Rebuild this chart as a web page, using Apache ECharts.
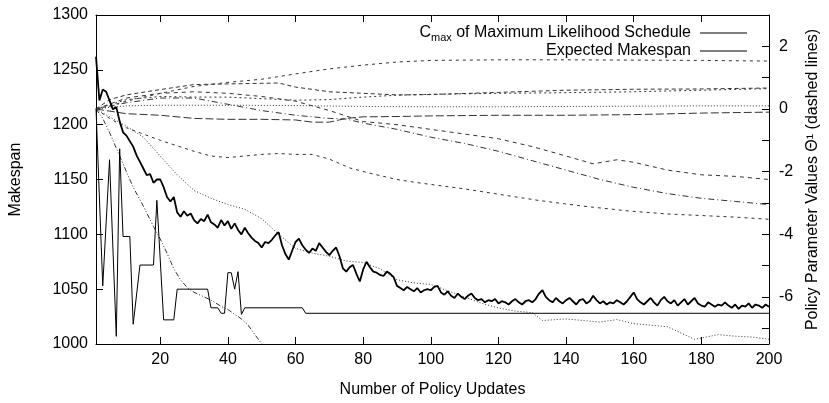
<!DOCTYPE html>
<html><head><meta charset="utf-8">
<script src="https://cdn.jsdelivr.net/npm/echarts@6/dist/echarts.min.js"></script>
<style>html,body{margin:0;padding:0;background:#fff}#c{width:829px;height:403px}</style>
</head><body><div id="c"></div>
<script>
// ---- data ----
const xTickValues = [20,40,60,80,100,120,140,160,180,200];
const rightTickValues = [-7,-6,-5,-4,-3,-2,-1,0,1,2,3];
const rightLabelValues = [-6,-4,-2,0,2];

const expectedMakespan = [
1262,1222,1232,1230,1222,1214,1216,1203,1193,1190,
1185,1180,1172,1166,1160,1154,1155,1147,1150,1150,
1143,1134,1130,1134,1120,1116,1121,1117,1119,1113,
1110,1114,1112,1118,1111,1109,1106,1113,1108,1112,
1105,1110,1104,1100,1106,1101,1097,1094,1092,1088,
1093,1092,1095,1099,1102,1090,1082,1077,1085,1093,
1096,1090,1086,1083,1087,1085,1092,1088,1084,1081,
1085,1088,1080,1069,1066,1070,1072,1064,1057,1068,
1075,1070,1066,1065,1063,1062,1066,1064,1061,1053,
1051,1049,1052,1050,1048,1051,1047,1049,1050,1049,
1052,1053,1047,1045,1048,1044,1042,1046,1043,1041,
1044,1046,1042,1040,1041,1038,1040,1039,1041,1037,
1039,1038,1036,1039,1041,1038,1036,1039,1040,1038,
1041,1046,1049,1043,1040,1038,1042,1039,1037,1040,
1042,1039,1036,1040,1041,1037,1039,1044,1040,1037,
1039,1036,1038,1037,1040,1038,1036,1039,1043,1047,
1041,1038,1036,1039,1042,1038,1035,1040,1043,1039,
1037,1040,1035,1038,1041,1036,1039,1042,1037,1035,
1034,1038,1036,1034,1036,1035,1038,1035,1033,1036,
1032,1035,1034,1037,1033,1036,1035,1033,1036,1034
];

const cmaxX = [1,3,5,7,8,9,11,12,14,18,19,21,24,25,34,35,37,38,39,40,41,42,43,44,45,62,63,200];
const cmaxY = [1215,1053,1168,1007,1178,1098,1098,1018,1072,1072,1131,1022,1022,1050,1050,1033,1033,1028,1028,1065,1065,1050,1066,1027,1033,1033,1028,1028];

const thetaAX = [1,5,10,20,30,40,50,60,70,80,90,100,120,140,160,180,200];
const thetaAY = [0,0.1,0.25,0.5,0.72,0.85,0.95,1.12,1.28,1.4,1.5,1.55,1.57,1.57,1.56,1.55,1.53];

const thetaBX = [1,5,10,20,30,40,50,55,60,70,80,90,100,120,140,160,180,200];
const thetaBY = [0,0.3,0.45,0.62,0.78,0.8,0.82,0.83,0.7,0.55,0.5,0.45,0.46,0.53,0.6,0.63,0.64,0.67];

const thetaCX = [1,10,20,30,40,50,60,70,80,90,100,120,140,160,180,200];
const thetaCY = [0,0.3,0.4,0.38,0.38,0.33,0.28,0.3,0.38,0.44,0.47,0.5,0.52,0.55,0.6,0.65];

const thetaDX = [1,5,10,20,40,60,80,100,120,140,160,180,200];
const thetaDY = [0,0.05,0.1,0.12,0.12,0.11,0.08,0.07,0.07,0.08,0.09,0.1,0.1];

const thetaFX = [1,10,20,30,40,50,60,65,70,75,80,90,100,120,140,160,180,200];
const thetaFY = [0,-0.15,-0.2,-0.3,-0.33,-0.33,-0.35,-0.42,-0.42,-0.3,-0.25,-0.24,-0.22,-0.2,-0.2,-0.18,-0.13,-0.1];

const thetaGX = [1,10,20,30,40,50,60,70,80,90,100,110,120,130,140,148,155,160,170,180,190,200];
const thetaGY = [0,0.35,0.5,0.55,0.5,0.4,0.25,-0.05,-0.4,-0.5,-0.65,-0.8,-0.95,-1.2,-1.5,-1.75,-1.62,-1.7,-1.95,-2.1,-2.15,-2.25];

const thetaEX = [1,10,20,30,40,50,60,70,75,80,90,100,110,120,130,140,150,160,170,180,190,200];
const thetaEY = [0,0.2,0.35,0.35,0.15,-0.05,-0.2,-0.3,-0.32,-0.45,-0.65,-0.9,-1.1,-1.35,-1.65,-1.95,-2.25,-2.5,-2.7,-2.85,-2.95,-3.05];

const thetaHX = [1,5,10,20,30,35,40,45,50,55,60,65,70,76,82,90,96,110,120,132,145,159,170,180,190,200];
const thetaHY = [0,-0.3,-0.6,-1.0,-1.35,-1.5,-1.55,-1.5,-1.45,-1.42,-1.45,-1.45,-1.6,-1.88,-2.05,-2.25,-2.35,-2.55,-2.72,-2.92,-3.1,-3.26,-3.35,-3.4,-3.45,-3.52];

const thetaIX = [1,5,10,15,20,25,30,35,40,45,50,55,60,65,70,75,80,85,90,95,100,105,110,115,120,125,130,133,140,145,150,155,160,165,170,175,178,185,190,195,200];
const thetaIY = [0,-0.25,-0.55,-0.9,-1.5,-2.1,-2.6,-2.85,-3.05,-3.2,-3.5,-4.0,-4.45,-4.6,-4.7,-4.85,-4.9,-5.1,-5.45,-5.55,-5.6,-5.8,-6.0,-6.2,-6.35,-6.45,-6.5,-6.75,-6.7,-6.75,-6.8,-6.72,-6.85,-6.9,-6.95,-7.2,-7.35,-7.2,-7.25,-7.28,-7.35];

const thetaJX = [1,3,5,8,10,12,15,18,20,22,24,26,28,30,32,35,38,40,42,44,46,48,50,52];
const thetaJY = [0,-0.3,-0.75,-1.5,-2.0,-2.5,-3.1,-3.75,-4.15,-4.6,-5.1,-5.45,-5.7,-5.85,-5.95,-6.1,-6.3,-6.4,-6.55,-6.7,-6.9,-7.2,-7.5,-7.8];

const nameCmax = 'Cmax of Maximum Likelihood Schedule';
const nameExp = 'Expected Makespan';

// ---- build ----
function pairs(xs, ys){ return xs.map((x,i)=>[x, ys[i]]); }
const expData = expectedMakespan.map((v,i)=>[i+1, v]);

const FONT = 'Liberation Sans';
const thetaColor = '#333';
function theta(xs, ys, dash){
  return {type:'line', yAxisIndex:1, xAxisIndex:0, data:pairs(xs,ys), showSymbol:false, symbol:'none',
    lineStyle:{color:thetaColor, width:1, type:dash}, silent:true, z:2, animation:false};
}
const plain = v => String(v);

const chart = echarts.init(document.getElementById('c'), null, {renderer:'canvas'});
chart.setOption({
  animation:false,
  backgroundColor:'#fff',
  textStyle:{fontFamily:FONT},
  grid:{left:96, right:57, top:15, bottom:48, containLabel:false},
  legend:[
    {data:[nameCmax], right:77, top:20, orient:'horizontal', align:'right',
     itemWidth:47, itemHeight:1, icon:'rect', itemGap:0,
     formatter:function(){return '{n|C}{s|max}{n| of Maximum Likelihood Schedule}';},
     textStyle:{fontFamily:FONT, color:'#000', padding:[0,4,0,0],
       rich:{n:{fontSize:16, fontFamily:FONT, color:'#000', lineHeight:20},
             s:{fontSize:11, fontFamily:FONT, color:'#000', lineHeight:20, verticalAlign:'bottom', padding:[6,0,0,0]}}}},
    {data:[nameExp], right:77, top:38, orient:'horizontal', align:'right',
     itemWidth:47, itemHeight:1, icon:'rect',
     textStyle:{fontFamily:FONT, fontSize:16, color:'#000', padding:[0,4,0,0]}}
  ],
  xAxis:[
    {type:'value', min:1, max:200, position:'bottom',
     name:'Number of Policy Updates', nameLocation:'middle', nameGap:38,
     nameTextStyle:{fontFamily:FONT, fontSize:16, color:'#000'},
     axisLine:{show:true, onZero:false, lineStyle:{color:'#000', width:1}},
     axisTick:{show:true, inside:true, length:7, customValues:xTickValues, lineStyle:{color:'#000'}},
     axisLabel:{show:true, customValues:xTickValues, formatter:plain, fontFamily:FONT, fontSize:16, color:'#000', margin:8},
     splitLine:{show:false}},
    {type:'value', min:1, max:200, position:'top',
     axisLine:{show:true, onZero:false, lineStyle:{color:'#000', width:1}},
     axisTick:{show:true, inside:true, length:7, customValues:xTickValues, lineStyle:{color:'#000'}},
     axisLabel:{show:false}, splitLine:{show:false}}
  ],
  yAxis:[
    {type:'value', min:1000, max:1300, interval:50, position:'left',
     name:'Makespan', nameLocation:'middle', nameGap:72, nameRotate:90,
     nameTextStyle:{fontFamily:FONT, fontSize:16, color:'#000'},
     axisLine:{show:true, onZero:false, lineStyle:{color:'#000', width:1}},
     axisTick:{show:true, inside:true, length:7, lineStyle:{color:'#000'}},
     axisLabel:{formatter:plain, fontFamily:FONT, fontSize:16, color:'#000', margin:8},
     splitLine:{show:false}},
    {type:'value', min:-7.5, max:3, position:'right',
     name:'Policy Parameter Values \u0398\u00B9 (dashed lines)', nameLocation:'middle', nameGap:36, nameRotate:90,
     nameTextStyle:{fontFamily:FONT, fontSize:16, color:'#000'},
     axisLine:{show:true, onZero:false, lineStyle:{color:'#000', width:1}},
     axisTick:{show:true, inside:true, length:7, customValues:rightTickValues, lineStyle:{color:'#000'}},
     axisLabel:{customValues:rightLabelValues, formatter:plain, fontFamily:FONT, fontSize:16, color:'#000', margin:10},
     splitLine:{show:false}}
  ],
  series:[
    theta(thetaAX, thetaAY, [3,4]),
    theta(thetaBX, thetaBY, [4,3]),
    theta(thetaCX, thetaCY, [2,3]),
    theta(thetaDX, thetaDY, [1,2]),
    theta(thetaFX, thetaFY, [8,3]),
    theta(thetaGX, thetaGY, [4,4]),
    theta(thetaEX, thetaEY, [6,3,1,3]),
    theta(thetaHX, thetaHY, [3,4]),
    theta(thetaIX, thetaIY, [1,2]),
    theta(thetaJX, thetaJY, [5,2,1,2,1,2]),
    {name:nameCmax, type:'line', yAxisIndex:0, data:pairs(cmaxX,cmaxY), showSymbol:false, symbol:'none',
     lineStyle:{color:'#000', width:1}, itemStyle:{color:'#000'}, z:3},
    {name:nameExp, type:'line', yAxisIndex:0, data:expData, showSymbol:false, symbol:'none',
     lineStyle:{color:'#000', width:1.8}, itemStyle:{color:'#000'}, z:4}
  ]
});
</script></body></html>
